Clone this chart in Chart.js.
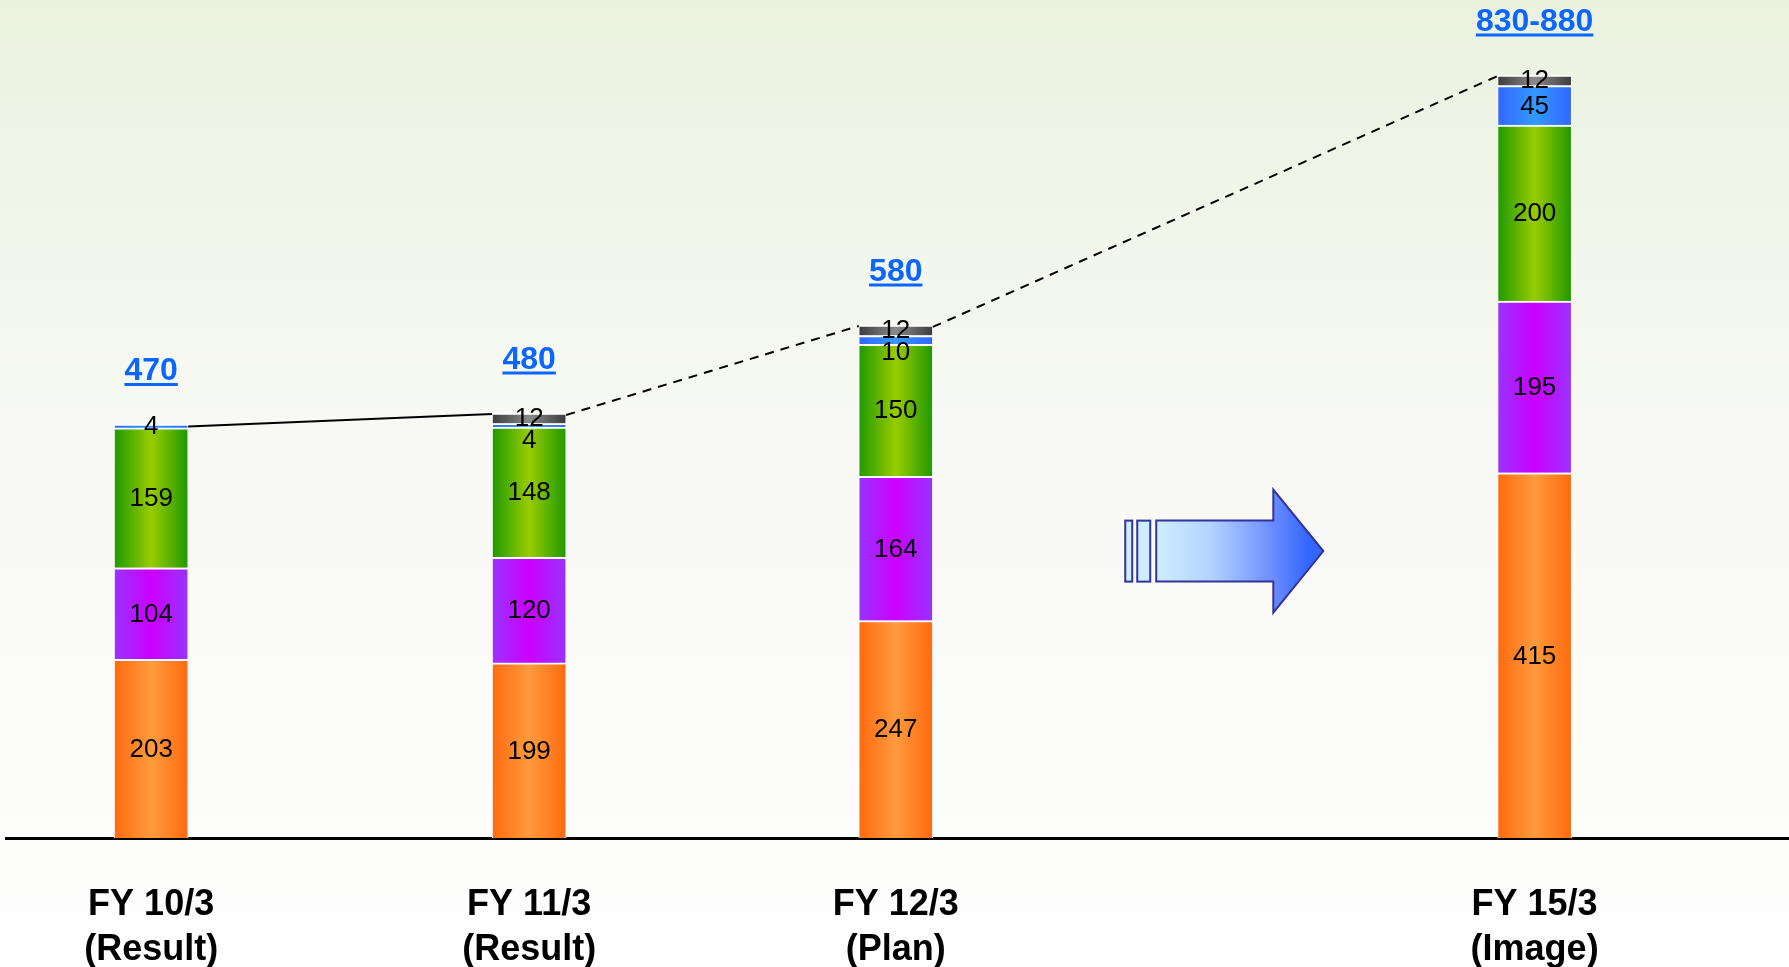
<!DOCTYPE html>
<html>
<head>
<meta charset="utf-8">
<title>FY outlook</title>
<script src="https://cdn.jsdelivr.net/npm/chart.js@4.4.1/dist/chart.umd.min.js"></script>
<style>
  html, body { margin: 0; padding: 0; background: #fdfdfd; overflow: hidden; }
  #wrap { width: 1789px; height: 967px; }
</style>
</head>
<body>
<div id="wrap"><canvas id="chart" width="1789" height="967"></canvas></div>
<script>
// ---- values ----
const periods = [['FY 10/3', '(Result)'], ['FY 11/3', '(Result)'], ['FY 12/3', '(Plan)'], ['FY 15/3', '(Image)']];
const orangeVals = [203, 199, 247, 415];
const purpleVals = [104, 120, 164, 195];
const greenVals = [159, 148, 150, 200];
const blueVals = [4, 4, 10, 45];
const grayVals = [null, 12, 12, 12];
const totalLabels = ['470', '480', '580', '830-880'];

// where each period sits on the x axis (last one pushed right, room for the arrow)
const xSlot = [0, 1, 1.97, 3.66];

const FONT = "'Liberation Sans', Arial, Helvetica, sans-serif";
const BAR_W = 74;

// horizontal "cylinder" shading for each bar segment
function barFill(edge, mid) {
    return function (c) {
        if (c.type !== 'data') return mid;
        const sx = c.chart.scales.x;
        if (!sx) return mid;
        const cx = sx.getPixelForValue(xSlot[c.dataIndex]);
        if (!isFinite(cx)) return mid;
        const g = c.chart.ctx.createLinearGradient(cx - BAR_W / 2, 0, cx + BAR_W / 2, 0);
        g.addColorStop(0, edge);
        g.addColorStop(0.5, mid);
        g.addColorStop(1, edge);
        return g;
    };
}

function series(label, vals, edge, mid) {
    return {
        label: label,
        data: vals.map((v, i) => ({ x: xSlot[i], y: v })),
        backgroundColor: barFill(edge, mid),
        borderColor: '#ffffff',
        borderWidth: { top: 2, left: 1, right: 1, bottom: 0 },
        borderSkipped: false,
        barThickness: BAR_W
    };
}

// bottom -> top order of the stack
const segments = [orangeVals, purpleVals, greenVals, blueVals, grayVals];

/*------------------------------ background ------------------------------*/
const backdrop = {
    id: 'backdrop',
    beforeDraw(chart) {
        const { ctx, width, height } = chart;
        const g = ctx.createLinearGradient(0, 0, 0, height);
        g.addColorStop(0, '#eaf2df');
        g.addColorStop(0.45, '#f8f9f5');
        g.addColorStop(1, '#fefefe');
        ctx.save();
        ctx.fillStyle = g;
        ctx.fillRect(0, 0, width, height);
        ctx.restore();
    }
};

/*------------------------------ block arrow ------------------------------*/
const arrow = {
    id: 'arrow',
    beforeDatasetsDraw(chart) {
        const { ctx, scales: { x, y } } = chart;
        const x0 = x.getPixelForValue(2.577);
        const x1 = x.getPixelForValue(3.101);
        const cy = y.getPixelForValue(326);
        const bodyH = 30.5, headH = 61.5;
        const bodyL = x0 + 31, headL = x1 - 50;
        ctx.save();
        ctx.lineWidth = 2;
        ctx.strokeStyle = '#333399';
        ctx.fillStyle = '#cdeeff';
        // the two little bars in front
        ctx.fillRect(x0, cy - bodyH, 7, bodyH * 2);
        ctx.strokeRect(x0, cy - bodyH, 7, bodyH * 2);
        ctx.fillRect(x0 + 12, cy - bodyH, 13, bodyH * 2);
        ctx.strokeRect(x0 + 12, cy - bodyH, 13, bodyH * 2);
        // body + head
        const g = ctx.createLinearGradient(bodyL, 0, x1 - 15, 0);
        g.addColorStop(0, '#cdeeff');
        g.addColorStop(0.35, '#b4d4ff');
        g.addColorStop(0.75, '#6f8fff');
        g.addColorStop(1, '#3366ff');
        ctx.beginPath();
        ctx.moveTo(bodyL, cy - bodyH);
        ctx.lineTo(headL, cy - bodyH);
        ctx.lineTo(headL, cy - headH);
        ctx.lineTo(x1, cy);
        ctx.lineTo(headL, cy + headH);
        ctx.lineTo(headL, cy + bodyH);
        ctx.lineTo(bodyL, cy + bodyH);
        ctx.closePath();
        ctx.fillStyle = g;
        ctx.fill();
        ctx.stroke();
        ctx.restore();
    }
};

/*------------------------ trend line, values, totals ------------------------*/
const annotate = {
    id: 'annotate',
    afterDatasetsDraw(chart) {
        const ctx = chart.ctx;
        // top element of each stack
        const tops = xSlot.map((_, i) => {
            let top = null;
            segments.forEach((vals, d) => {
                if (vals[i] == null) return;
                const el = chart.getDatasetMeta(d).data[i];
                if (!top || el.y < top.y) top = el;
            });
            return top;
        });

        ctx.save();
        // connecting line: solid for results, dashed towards the plan
        ctx.strokeStyle = '#000';
        ctx.lineWidth = 2;
        for (let i = 0; i < tops.length - 1; i++) {
            const a = tops[i], b = tops[i + 1];
            ctx.setLineDash(i === 0 ? [] : [9, 7]);
            ctx.beginPath();
            ctx.moveTo(a.x + BAR_W / 2, a.y + 2);
            ctx.lineTo(b.x - BAR_W / 2, b.y + 1);
            ctx.stroke();
        }
        ctx.setLineDash([]);

        // segment values, top segment first, pushed down so they don't collide
        ctx.fillStyle = '#000';
        ctx.font = '26px ' + FONT;
        ctx.textAlign = 'center';
        ctx.textBaseline = 'middle';
        xSlot.forEach((_, i) => {
            let prev = -Infinity;
            for (let d = segments.length - 1; d >= 0; d--) {
                const v = segments[d][i];
                if (v == null) continue;
                const el = chart.getDatasetMeta(d).data[i];
                const ty = Math.max((el.y + el.base) / 2 + 1, prev + 22);
                ctx.fillText(String(v), el.x, ty);
                prev = ty;
            }
        });

        // totals, blue and underlined
        ctx.font = 'bold 32px ' + FONT;
        ctx.textBaseline = 'alphabetic';
        ctx.fillStyle = '#0a66ff';
        ctx.strokeStyle = '#0a66ff';
        ctx.lineWidth = 3;
        tops.forEach((el, i) => {
            const base = el.y - 44;
            const w = ctx.measureText(totalLabels[i]).width;
            ctx.fillText(totalLabels[i], el.x, base);
            ctx.beginPath();
            ctx.moveTo(el.x - w / 2, base + 4);
            ctx.lineTo(el.x + w / 2, base + 4);
            ctx.stroke();
        });
        ctx.restore();
    }
};

new Chart(document.getElementById('chart'), {
    type: 'bar',
    data: {
        datasets: [
            series('orange', orangeVals, '#ff6a0f', '#ff9b3d'),
            series('purple', purpleVals, '#9933ff', '#cc00ff'),
            series('green', greenVals, '#1f9900', '#99cc00'),
            series('blue', blueVals, '#3366ff', '#3399ff'),
            series('gray', grayVals, '#3c3c3c', '#8a8a8a')
        ]
    },
    options: {
        responsive: false,
        animation: false,
        devicePixelRatio: 1,
        layout: { padding: { left: 6, right: 0, top: 2, bottom: 0 } },
        plugins: { legend: { display: false }, tooltip: { enabled: false } },
        scales: {
            x: {
                type: 'linear',
                offset: false,
                min: -0.384,
                max: 4.333,
                stacked: true,
                grid: { display: false },
                border: { display: true, color: '#000', width: 3 },
                afterBuildTicks(axis) { axis.ticks = xSlot.map(v => ({ value: v })); },
                afterFit(axis) { axis.height = 129; },
                ticks: {
                    autoSkip: false,
                    maxRotation: 0,
                    minRotation: 0,
                    padding: 37,
                    color: '#000',
                    font: { family: FONT, size: 36, weight: 'bold', lineHeight: 1.25 },
                    callback: (v, i) => periods[i]
                }
            },
            y: { display: false, stacked: true, min: 0, max: 950 }
        }
    },
    plugins: [backdrop, arrow, annotate]
});
</script>
</body>
</html>
